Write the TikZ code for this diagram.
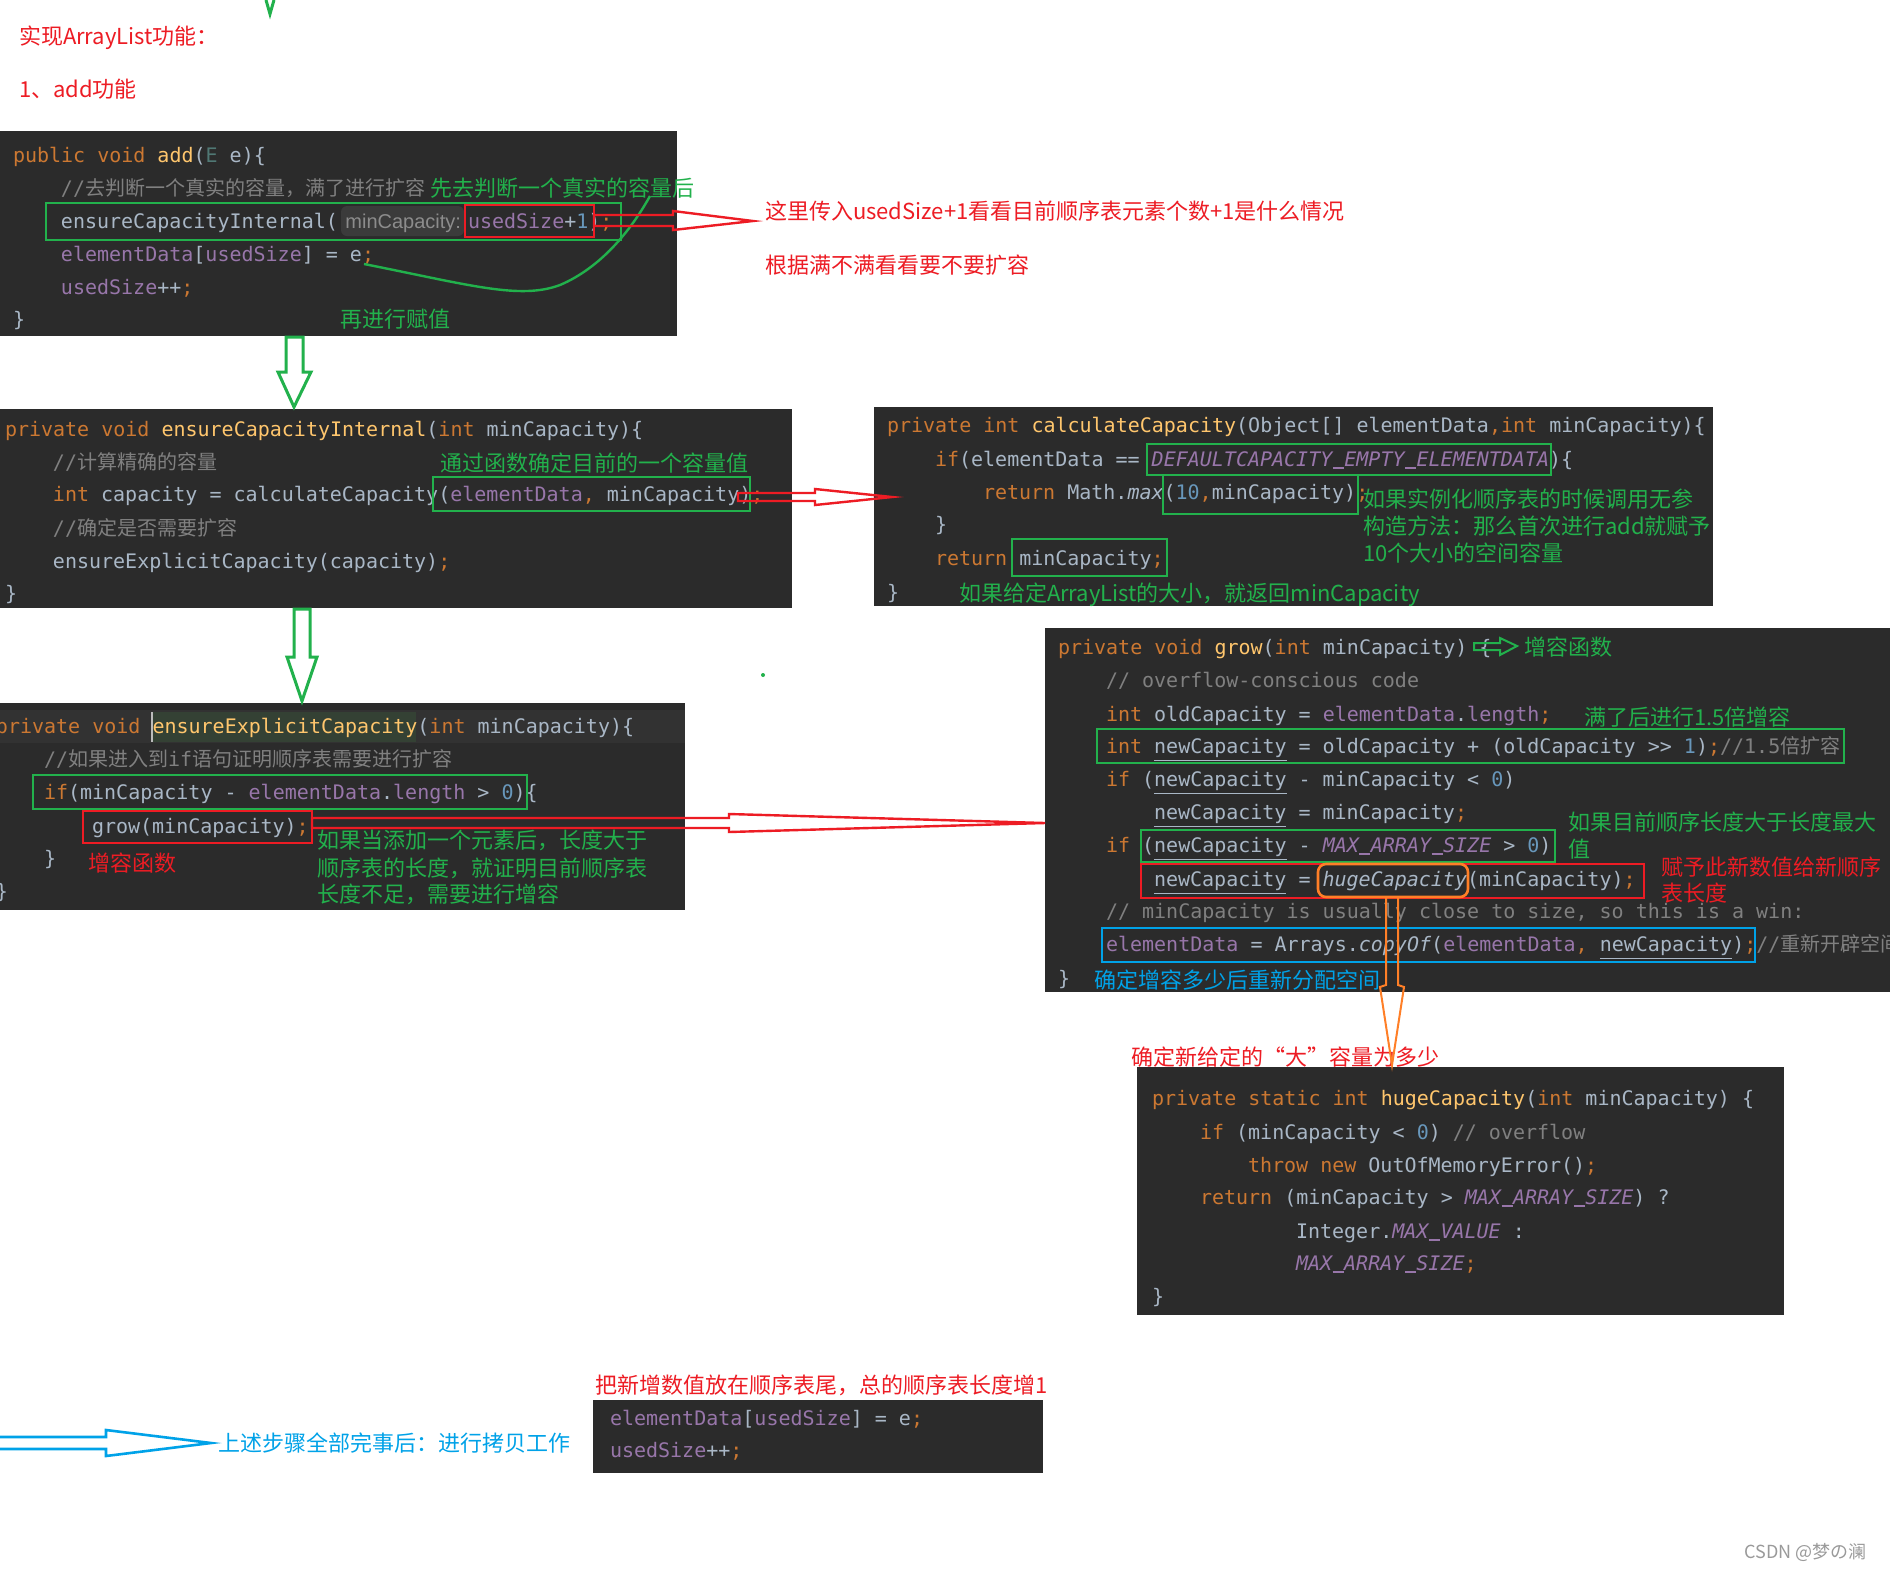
\documentclass[tikz,border=0pt]{standalone}
\usepackage{fontspec}
\newfontfamily\code{DejaVu Sans Mono}
\newfontfamily\cjk{Noto Sans CJK SC}
\newfontfamily\hintf{Liberation Sans}
\definecolor{bgc}{HTML}{2B2B2B}
\definecolor{kw}{HTML}{CC7832}
\definecolor{fnc}{HTML}{FFC66D}
\definecolor{txt}{HTML}{A9B7C6}
\definecolor{fld}{HTML}{9876AA}
\definecolor{num}{HTML}{6897BB}
\definecolor{cmt}{HTML}{808080}
\definecolor{tpc}{HTML}{507874}
\definecolor{grn}{HTML}{22B14C}
\definecolor{redc}{HTML}{ED1C24}
\definecolor{blu}{HTML}{00A2E8}
\definecolor{org}{HTML}{FF7F27}
\definecolor{hintbg}{HTML}{3B3B3B}
\definecolor{hintc}{HTML}{8C8C8C}
\definecolor{curline}{HTML}{323232}
\definecolor{hlc}{HTML}{344134}
\definecolor{cursorc}{HTML}{BBBBBB}
\definecolor{wm}{HTML}{9A9A9A}
\newcommand\ckw[1]{\textcolor{kw}{#1}}
\newcommand\cfn[1]{\textcolor{fnc}{#1}}
\newcommand\cfd[1]{\textcolor{fld}{#1}}
\newcommand\cnm[1]{\textcolor{num}{#1}}
\newcommand\ccm[1]{\textcolor{cmt}{#1}}
\newcommand\ctp[1]{\textcolor{tpc}{#1}}
\newcommand\cfi[1]{\textcolor{fld}{\itshape #1}}
\newcommand\zh[1]{{\cjk #1}}
\newcommand\undl[1]{\underline{#1}}
\newcommand\us{\makebox[0.602em][c]{\rule[-1.3pt]{0.55em}{0.6pt}}}
\newcounter{nn}
\newcommand\cdl[3]{\stepcounter{nn}\node[codetext] (c\thenn) at (#1,#2+7) {#3};}
\newcommand\ann[4]{\stepcounter{nn}\node[annot,text=#3] (a\thenn) at (#1,#2+8) {#4};}
\tikzset{
  codetext/.style={anchor=base west,inner sep=0,outer sep=0,text=txt,font=\code\fontsize{10}{12}\selectfont},
  annot/.style={anchor=base west,inner sep=0,outer sep=0,font=\cjk\fontsize{11}{13}\selectfont},
  grect/.style={draw=grn,line width=1.3pt},
  rrect/.style={draw=redc,line width=1.3pt},
  orect/.style={draw=org,line width=1.3pt,rounded corners=4pt},
  brect/.style={draw=blu,line width=1.3pt},
  garrow/.style={draw=grn,line width=1.5pt,line join=miter},
  rarrow/.style={draw=redc,line width=1.2pt,line join=miter},
  barrow/.style={draw=blu,line width=1.3pt,line join=miter},
  oarrow/.style={draw=org,line width=1pt,line join=miter},
}
\begin{document}
\begin{tikzpicture}[x=0.5pt,y=-0.5pt]
\useasboundingbox (0,0) rectangle (1890,1570);
\fill[white] (0,0) rectangle (1890,1570);

% ---------- backgrounds ----------
\fill[bgc] (0,131) rectangle (677,336);
\fill[bgc] (0,409) rectangle (792,608);
\fill[bgc] (874,407) rectangle (1713,606);
\fill[bgc] (0,703) rectangle (685,910);
\fill[bgc] (1045,628) rectangle (1890,992);
\fill[bgc] (1137,1067) rectangle (1784,1315);
\fill[bgc] (593,1400) rectangle (1043,1473);

% ---------- box 1: add ----------
\cdl{13}{155}{\ckw{public void }\cfn{add}(\ctp{E} e)\{}
\cdl{61}{188}{\ccm{//\zh{去判断一个真实的容量，满了进行扩容}}}
\fill[hintbg,rounded corners=3pt] (341,206) rectangle (464,236);
\cdl{61}{221}{ensureCapacityInternal(}
\node[anchor=base west,inner sep=0,text=hintc,font=\hintf\fontsize{10}{12}\selectfont] (h1) at (345,228) {minCapacity:};
\cdl{468}{221}{\cfd{usedSize}+\cnm{1})\ckw{;}}
\cdl{61}{254}{\cfd{elementData}[\cfd{usedSize}] = e\ckw{;}}
\cdl{61}{287}{\cfd{usedSize}++\ckw{;}}
\cdl{13}{319}{\}}

% ---------- box 2: ensureCapacityInternal ----------
\cdl{5}{429}{\ckw{private void }\cfn{ensureCapacityInternal}(\ckw{int }minCapacity)\{}
\cdl{53}{462}{\ccm{//\zh{计算精确的容量}}}
\cdl{53}{494}{\ckw{int }capacity = calculateCapacity(\cfd{elementData}\ckw{, }minCapacity)\ckw{;}}
\cdl{53}{528}{\ccm{//\zh{确定是否需要扩容}}}
\cdl{53}{561}{ensureExplicitCapacity(capacity)\ckw{;}}
\cdl{5}{593}{\}}

% ---------- box 3: calculateCapacity ----------
\cdl{887}{425}{\ckw{private int }\cfn{calculateCapacity}(Object[] elementData\ckw{,int }minCapacity)\{}
\cdl{935}{459}{\ckw{if}(elementData == \cfi{DEFAULTCAPACITY\us EMPTY\us ELEMENTDATA})\{}
\cdl{983}{492}{\ckw{return }Math.\textit{max}(\cnm{10}\ckw{,}minCapacity)\ckw{;}}
\cdl{935}{524}{\}}
\cdl{935}{558}{\ckw{return }minCapacity\ckw{;}}
\cdl{887}{592}{\}}

% ---------- box 4: ensureExplicitCapacity ----------
\fill[curline] (0,710) rectangle (685,743);
\fill[hlc] (152,712) rectangle (416,742);
\draw[cursorc,line width=0.8pt] (152,712) -- (152,742);
\cdl{-4}{726}{\ckw{private void }\cfn{ensureExplicitCapacity}(\ckw{int }minCapacity)\{}
\cdl{44}{759}{\ccm{//\zh{如果进入到}if\zh{语句证明顺序表需要进行扩容}}}
\cdl{44}{792}{\ckw{if}(minCapacity - \cfd{elementData}.\cfd{length} > \cnm{0})\{}
\cdl{92}{826}{grow(minCapacity)\ckw{;}}
\cdl{44}{858}{\}}
\cdl{-4}{891}{\}}

% ---------- box 5: grow ----------
\cdl{1058}{647}{\ckw{private void }\cfn{grow}(\ckw{int }minCapacity) \{}
\cdl{1106}{680}{\ccm{// overflow-conscious code}}
\cdl{1106}{714}{\ckw{int }oldCapacity = \cfd{elementData}.\cfd{length}\ckw{;}}
\cdl{1106}{746}{\ckw{int }\undl{newCapacity} = oldCapacity + (oldCapacity >> \cnm{1})\ckw{;}\ccm{//1.5\zh{倍扩容}}}
\cdl{1106}{779}{\ckw{if }(\undl{newCapacity} - minCapacity < \cnm{0})}
\cdl{1154}{812}{\undl{newCapacity} = minCapacity\ckw{;}}
\cdl{1106}{845}{\ckw{if }(\undl{newCapacity} - \cfi{MAX\us ARRAY\us SIZE} > \cnm{0})}
\cdl{1154}{879}{\undl{newCapacity} = \textit{hugeCapacity}(minCapacity)\ckw{;}}
\cdl{1106}{911}{\ccm{// minCapacity is usually close to size, so this is a win:}}
\cdl{1106}{944}{\cfd{elementData} = Arrays.\textit{copyOf}(\cfd{elementData}\ckw{, }\undl{newCapacity})\ckw{;}\ccm{//\zh{重新开辟空间}}}
\cdl{1058}{978}{\}}

% ---------- box 6: hugeCapacity ----------
\cdl{1152}{1098}{\ckw{private static int }\cfn{hugeCapacity}(\ckw{int }minCapacity) \{}
\cdl{1200}{1132}{\ckw{if }(minCapacity < \cnm{0}) \ccm{// overflow}}
\cdl{1248}{1165}{\ckw{throw new }OutOfMemoryError()\ckw{;}}
\cdl{1200}{1197}{\ckw{return }(minCapacity > \cfi{MAX\us ARRAY\us SIZE}) ?}
\cdl{1296}{1231}{Integer.\cfi{MAX\us VALUE} :}
\cdl{1296}{1263}{\cfi{MAX\us ARRAY\us SIZE}\ckw{;}}
\cdl{1152}{1296}{\}}

% ---------- box 7 ----------
\cdl{610}{1418}{\cfd{elementData}[\cfd{usedSize}] = e\ckw{;}}
\cdl{610}{1450}{\cfd{usedSize}++\ckw{;}}

% ---------- highlight rectangles ----------
\draw[grect] (46,203) rectangle (621,240);
\draw[rrect] (465,205) rectangle (594,237);
\draw[grect] (433,477) rectangle (750,511);
\draw[grect] (1147,444) rectangle (1551,475);
\draw[grect] (1163,475) rectangle (1358,514);
\draw[grect] (1012,539) rectangle (1167,576);
\draw[grect] (33,775) rectangle (527,809);
\draw[rrect] (83,811) rectangle (312,843);
\draw[grect] (1097,729) rectangle (1844,763);
\draw[grect] (1141,830) rectangle (1555,862);
\draw[rrect] (1141,864) rectangle (1644,898);
\draw[orect] (1318,864) rectangle (1468,897);
\draw[brect] (1102,928) rectangle (1755,962);

% ---------- annotations ----------
\ann{19}{36}{redc}{实现ArrayList功能：}
\ann{19}{89}{redc}{1、add功能}
\ann{430}{188}{grn}{先去判断一个真实的容量后}
\ann{340}{319}{grn}{再进行赋值}
\ann{765}{211}{redc}{这里传入usedSize+1看看目前顺序表元素个数+1是什么情况}
\ann{765}{265}{redc}{根据满不满看看要不要扩容}
\ann{440}{463}{grn}{通过函数确定目前的一个容量值}
\ann{1363}{499}{grn}{如果实例化顺序表的时候调用无参}
\ann{1363}{526}{grn}{构造方法：那么首次进行add就赋予}
\ann{1363}{553}{grn}{10个大小的空间容量}
\ann{959}{593}{grn}{如果给定ArrayList的大小，就返回minCapacity}
\ann{88}{863}{redc}{增容函数}
\ann{317}{840}{grn}{如果当添加一个元素后，长度大于}
\ann{317}{868}{grn}{顺序表的长度，就证明目前顺序表}
\ann{317}{894}{grn}{长度不足，需要进行增容}
\ann{1524}{647}{grn}{增容函数}
\ann{1584}{717}{grn}{满了后进行1.5倍增容}
\ann{1568}{822}{grn}{如果目前顺序长度大于长度最大}
\ann{1568}{849}{grn}{值}
\ann{1661}{867}{redc}{赋予此新数值给新顺序}
\ann{1661}{893}{redc}{表长度}
\ann{1094}{980}{blu}{确定增容多少后重新分配空间}
\ann{1131}{1057}{redc}{确定新给定的“大”容量为多少}
\ann{595}{1385}{redc}{把新增数值放在顺序表尾，总的顺序表长度增1}
\ann{218}{1443}{blu}{上述步骤全部完事后：进行拷贝工作}
\node[anchor=base west,inner sep=0,text=wm,font=\cjk\fontsize{9}{11}\selectfont] (wmk) at (1744,1558) {CSDN @梦の澜};

% ---------- arrows and marks ----------
\draw[grn,line width=1.5pt] (266,0) -- (270,14) -- (274,0);
\draw[garrow] (286,337) -- (303,337) -- (303,372) -- (311,372) -- (294,407) -- (278,372) -- (286,372) -- cycle;
\draw[garrow] (294,609) -- (310,609) -- (310,657) -- (317,657) -- (302,701) -- (287,657) -- (294,657) -- cycle;
\draw[grn,line width=1.2pt] (364,264) .. controls (470,285) and (520,300) .. (560,285) .. controls (600,268) and (630,232) .. (650,196);
\draw[rarrow] (594,215) -- (673,215) -- (673,211) -- (753,221) -- (673,230) -- (673,226) -- (594,226) -- cycle;
\draw[rarrow] (738,493) -- (815,493) -- (815,489) -- (892,497) -- (815,505) -- (815,501) -- (738,501) -- cycle;
\draw[rarrow] (312,818) -- (729,818) -- (729,814) -- (1045,823) -- (729,832) -- (729,828) -- (312,828) -- cycle;
\draw[garrow,line width=1pt] (1474,643) -- (1500,643) -- (1500,638) -- (1517,646) -- (1500,655) -- (1500,650) -- (1474,650) -- cycle;
\draw[oarrow] (1386,897) -- (1386,985) -- (1380,987) -- (1392,1065) -- (1404,987) -- (1398,985) -- (1398,897) -- cycle;
\draw[barrow] (0,1437) -- (106,1437) -- (106,1430) -- (211,1443) -- (106,1456) -- (106,1449) -- (0,1449);
\fill[grn] (763,675) circle (1pt);
\end{tikzpicture}
\end{document}
